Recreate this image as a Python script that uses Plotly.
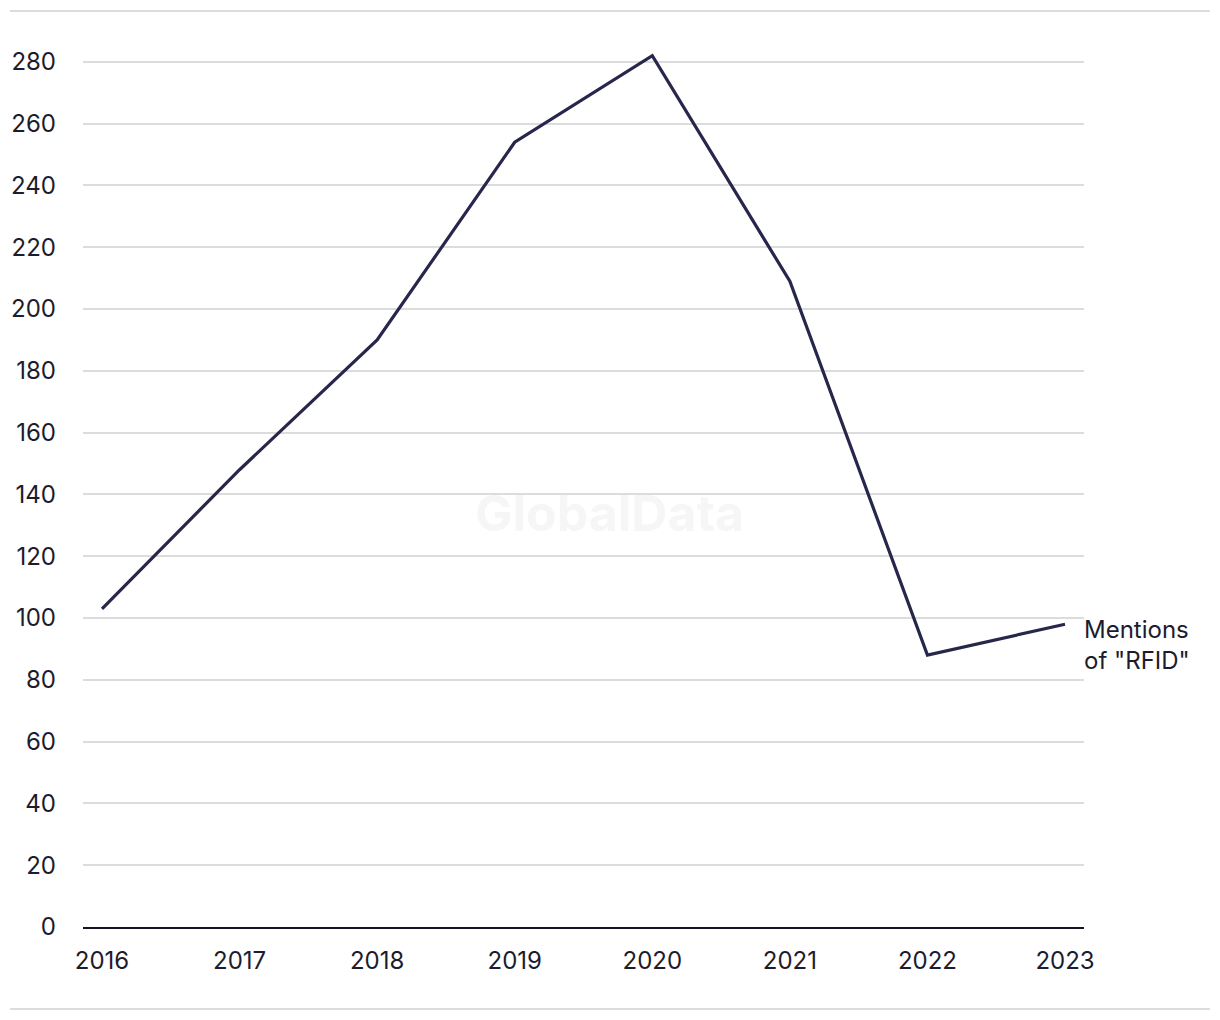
import plotly.graph_objects as go

years = [2016, 2017, 2018, 2019, 2020, 2021, 2022, 2023]
mentions = [103, 148, 190, 254, 282, 209, 88, 98]
y_ticks = list(range(0, 281, 20))
series_label = 'Mentions<br>of "RFID"'

FONT = "Inter, Roboto, 'Open Sans', sans-serif"
TEXT = "#1c1c2e"
LINE = "#27264b"
GRID = "#dcdcdc"

fig = go.Figure()
fig.add_trace(go.Scatter(
    x=years, y=mentions, mode="lines",
    line=dict(color=LINE, width=3.2),
    hoverinfo="x+y", showlegend=False,
))

fig.update_layout(
    width=1220, height=1020,
    margin=dict(l=83, r=136, t=31, b=93),
    paper_bgcolor="white", plot_bgcolor="white",
    font=dict(family=FONT, size=24, color=TEXT),
    xaxis=dict(
        range=[2015.862, 2023.138],
        tickmode="array", tickvals=years, ticktext=[str(y) for y in years],
        showgrid=False, zeroline=False,
        showline=True, linecolor="#141428", linewidth=2,
        ticks="", ticklabelstandoff=11,
        tickfont=dict(size=24, color=TEXT),
    ),
    yaxis=dict(
        range=[0, 290],
        tickmode="array", tickvals=y_ticks,
        showgrid=True, gridcolor=GRID, gridwidth=1.5,
        zeroline=False, showline=False,
        ticks="", ticklabelstandoff=26,
        tickfont=dict(size=24, color=TEXT),
    ),
)

# watermark
fig.add_annotation(
    x=0.526, y=0.462, xref="paper", yref="paper",
    text="<b>GlobalData</b>", showarrow=False,
    font=dict(family=FONT, size=50, color="#f6f6f6"),
)

# series label
fig.add_annotation(
    x=years[-1], y=mentions[-1], xref="x", yref="y",
    text=series_label, showarrow=False,
    xanchor="left", yanchor="middle", align="left",
    xshift=17, yshift=-21,
    font=dict(family=FONT, size=24, color=TEXT),
)

# top and bottom rules
for yp in [1.0223, -0.0915]:
    fig.add_shape(
        type="line", xref="paper", yref="paper",
        x0=-0.0729, x1=1.1259, y0=yp, y1=yp,
        line=dict(color=GRID, width=2),
    )

fig.write_html("out.html")
